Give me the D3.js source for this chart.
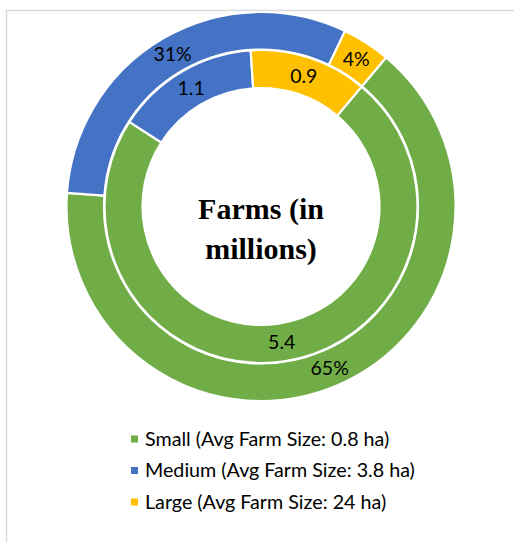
<!DOCTYPE html>
<html>
<head>
<meta charset="utf-8">
<script src="https://cdn.jsdelivr.net/npm/d3@7"></script>
<style>
  html, body { margin: 0; padding: 0; background: #fff; }
  svg { display: block; }
</style>
</head>
<body>
<svg id="chart" width="514" height="542"></svg>
<script>
// Farm size classes, in legend order
const categories = ["Small", "Medium", "Large"];
const legendLabels = [
  "Small (Avg Farm Size: 0.8 ha)",
  "Medium (Avg Farm Size: 3.8 ha)",
  "Large (Avg Farm Size: 24 ha)"
];
// Inner ring: number of farms (millions)
const farmsMillions = [5.4, 1.1, 0.9];
// Outer ring: share of farmland (%)
const sharePercent = [65, 31, 4];
const colors = ["#70AD47", "#4472C4", "#FFC000"];

const svg = d3.select("#chart");
const W = 514, H = 542;
const cx = 261, cy = 206.5;
const startAngle = 40 * Math.PI / 180;

// Chart frame
svg.append("path")
  .attr("d", `M6.5,${H} V10.5 H${W}`)
  .attr("fill", "none")
  .attr("stroke", "#d9d9d9")
  .attr("stroke-width", 1.5);

const color = d3.scaleOrdinal().domain(categories).range(colors);

const pie = d3.pie()
  .sort(null)
  .startAngle(startAngle)
  .endAngle(startAngle + 2 * Math.PI);

const g = svg.append("g").attr("transform", `translate(${cx},${cy})`);

function ring(values, r0, r1, fmt, cls) {
  const arc = d3.arc().innerRadius(r0).outerRadius(r1);
  const data = pie(values).map((d, i) => Object.assign(d, { cat: categories[i] }));
  const rg = g.append("g").attr("class", cls);
  rg.selectAll("path")
    .data(data)
    .join("path")
    .attr("d", arc)
    .attr("fill", d => color(d.cat))
    .attr("stroke", "#fff")
    .attr("stroke-width", 2.2)
    .attr("stroke-linejoin", "miter");
  rg.selectAll("text")
    .data(data)
    .join("text")
    .attr("transform", d => `translate(${arc.centroid(d)})`)
    .attr("text-anchor", "middle")
    .attr("dy", "0.35em")
    .attr("font-family", "Lato, 'Open Sans', sans-serif")
    .attr("font-size", 19.5)
    .attr("fill", "#000")
    .text(d => fmt(d.data));
}

ring(sharePercent, 157, 194.5, v => v + "%", "outer");
ring(farmsMillions, 118.5, 156.5, v => d3.format(".1f")(v), "inner");

// Centre title
const title = g.append("text")
  .attr("text-anchor", "middle")
  .attr("font-family", "'Liberation Serif', 'Times New Roman', serif")
  .attr("font-weight", "bold")
  .attr("font-size", 30)
  .attr("fill", "#000");
title.append("tspan").attr("x", 0).attr("y", 12.5).text("Farms (in");
title.append("tspan").attr("x", 0).attr("y", 52.5).text("millions)");

// Legend
const legend = svg.append("g").attr("transform", "translate(131,439)");
const item = legend.selectAll("g")
  .data(categories)
  .join("g")
  .attr("transform", (d, i) => `translate(0,${i * 31.5})`);
item.append("rect")
  .attr("x", 0).attr("y", -3.5)
  .attr("width", 7).attr("height", 7)
  .attr("fill", d => color(d));
item.append("text")
  .attr("x", 14)
  .attr("dy", "0.35em")
  .attr("font-family", "Lato, 'Open Sans', sans-serif")
  .attr("font-size", 19.7)
  .attr("fill", "#000")
  .text((d, i) => legendLabels[i]);
</script>
</body>
</html>
